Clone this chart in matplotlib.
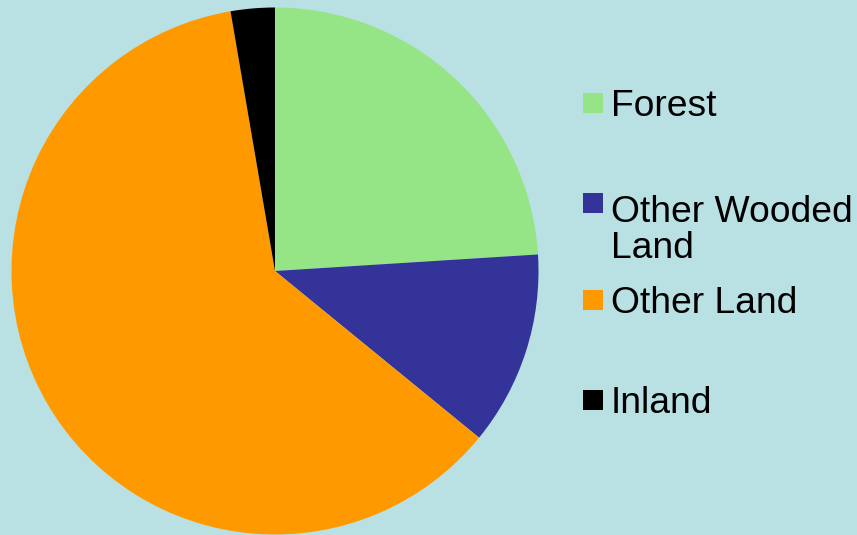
import matplotlib
matplotlib.use('Agg')
import matplotlib.pyplot as plt
from matplotlib.patches import Rectangle

plt.rcParams['font.family'] = ['Liberation Sans', 'DejaVu Sans']

# land use shares (%)
categories = ['Forest', 'Other Wooded\nLand', 'Other Land', 'Inland']
shares = [24.0, 11.9, 61.4, 2.7]
colors = ['#95E587', '#333399', '#FF9900', '#000000']
bg = '#B9E0E3'

W, H = 857, 535
fig = plt.figure(figsize=(W / 100, H / 100), dpi=100)
fig.patch.set_facecolor(bg)

# pie centre (275, 271) px, radius ~263.5 px
cx, cy, r = 275, 271, 263.5
ax = fig.add_axes([(cx - r) / W, (H - cy - r) / H, 2 * r / W, 2 * r / H])
ax.pie(shares, colors=colors, startangle=90, counterclock=False, radius=1,
       wedgeprops=dict(linewidth=0))
ax.set_xlim(-1, 1)
ax.set_ylim(-1, 1)
ax.set_aspect('equal')
ax.axis('off')

# legend: square marker and label per entry
entry_y = [103, 203, 300, 400]
line_h = 42
for label, col, y in zip(categories, colors, entry_y):
    fig.patches.append(Rectangle((583 / W, (H - y - 10) / H), 20 / W, 20 / H,
                                 transform=fig.transFigure, facecolor=col,
                                 edgecolor='none'))
    # baseline of the last line, so wrapped labels hang below the marker
    n = label.count('\n')
    base = y + 13 + n * line_h
    fig.text(611 / W, (H - base) / H, label, fontsize=26.8, color='black',
             va='baseline', ha='left', linespacing=1.05)

fig.savefig('out.png', dpi=100, facecolor=bg)
